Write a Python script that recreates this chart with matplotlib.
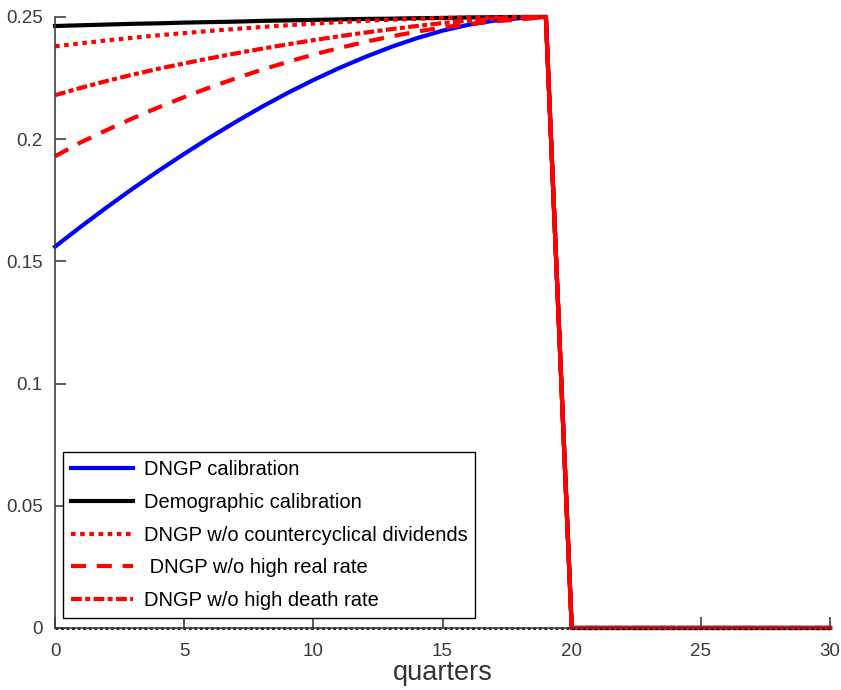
import matplotlib
matplotlib.use('Agg')
import matplotlib.pyplot as plt

plt.rcParams['font.family'] = ['Liberation Sans', 'DejaVu Sans']

quarters = list(range(31))
tail = [0.0] * 11

dngp = [0.156, 0.1642, 0.1721, 0.1797, 0.1870, 0.1940, 0.2007, 0.2071, 0.2132, 0.2189,
        0.2242, 0.2291, 0.2336, 0.2377, 0.2413, 0.2444, 0.2468, 0.2485, 0.2495, 0.2500] + tail
demog = [0.2463, 0.2466, 0.2469, 0.2472, 0.2474, 0.2477, 0.2479, 0.2481, 0.2484, 0.2486,
         0.2488, 0.2490, 0.2492, 0.2493, 0.2495, 0.2496, 0.2498, 0.2499, 0.2500, 0.2500] + tail
no_div = [0.238, 0.2392, 0.2404, 0.2415, 0.2425, 0.2434, 0.2443, 0.2451, 0.2459, 0.2466,
          0.2473, 0.2479, 0.2484, 0.2489, 0.2493, 0.2496, 0.2498, 0.2499, 0.2500, 0.2500] + tail
no_rate = [0.193, 0.1987, 0.2037, 0.2085, 0.2130, 0.2172, 0.2212, 0.2249, 0.2284, 0.2316,
           0.2346, 0.2373, 0.2398, 0.2420, 0.2440, 0.2457, 0.2471, 0.2482, 0.2490, 0.2500] + tail
no_death = [0.218, 0.2210, 0.2238, 0.2264, 0.2288, 0.2310, 0.2331, 0.2351, 0.2370, 0.2388,
            0.2405, 0.2421, 0.2436, 0.2450, 0.2463, 0.2475, 0.2485, 0.2493, 0.2499, 0.2500] + tail
zero = [0.0] * 31

labels = ['DNGP calibration', 'Demographic calibration',
          'DNGP w/o countercyclical dividends', ' DNGP w/o high real rate',
          'DNGP w/o high death rate']

fig = plt.figure(figsize=(8.41, 6.9), dpi=100)
ax = fig.add_axes([0.0654, 0.0899, 0.9216, 0.8855])

lw = 3
red = '#ff0000'
ax.plot(quarters, dngp, color='#0000ff', lw=lw, ls='-', label=labels[0], clip_on=False)
ax.plot(quarters, demog, color='k', lw=lw, ls='-', label=labels[1], clip_on=False)
ax.plot(quarters, no_div, color=red, lw=lw, ls=(0, (1.1, 1.1)), label=labels[2], clip_on=False)
ax.plot(quarters, no_rate, color=red, lw=lw, ls=(0, (3.6, 2.6)), label=labels[3], clip_on=False)
ax.plot(quarters, no_death, color=red, lw=lw, ls=(0, (2.6, 0.8, 1.2, 0.8)), label=labels[4], clip_on=False)
# the overlapping red patterns merge into a solid line after the last quarter
ax.plot(quarters[19:], no_death[19:], color=red, lw=lw, ls='-', clip_on=False)
ax.plot(quarters, zero, color='k', lw=2, ls=(0, (1, 1)), clip_on=False)

ax.set_xlim(0, 30)
ax.set_ylim(0, 0.25)
ax.set_xticks([0, 5, 10, 15, 20, 25, 30])
ax.set_yticks([0, 0.05, 0.1, 0.15, 0.2, 0.25])
ax.set_yticklabels(['0', '0.05', '0.1', '0.15', '0.2', '0.25'])
ax.tick_params(direction='in', length=8, width=1.2, colors='#404040', labelsize=13.5,
               labelcolor='#3a3a3a')
ax.tick_params(axis='x', pad=11)
ax.tick_params(axis='y', pad=9)
for s in ['top', 'right']:
    ax.spines[s].set_visible(False)
for s in ['left', 'bottom']:
    ax.spines[s].set_color('#404040')
    ax.spines[s].set_linewidth(1.2)

ax.set_xlabel('quarters', fontsize=19.5, color='#333333', labelpad=0)

leg = ax.legend(loc='lower left', bbox_to_anchor=(0.0103, 0.016), fontsize=14.5,
                frameon=True, fancybox=False, handlelength=3.1, handletextpad=0.5,
                labelspacing=0.68, borderpad=0.4, borderaxespad=0)
leg.get_frame().set_edgecolor('k')
leg.get_frame().set_linewidth(1.0)
leg.get_frame().set_alpha(1)

fig.savefig('out.png', dpi=100)
